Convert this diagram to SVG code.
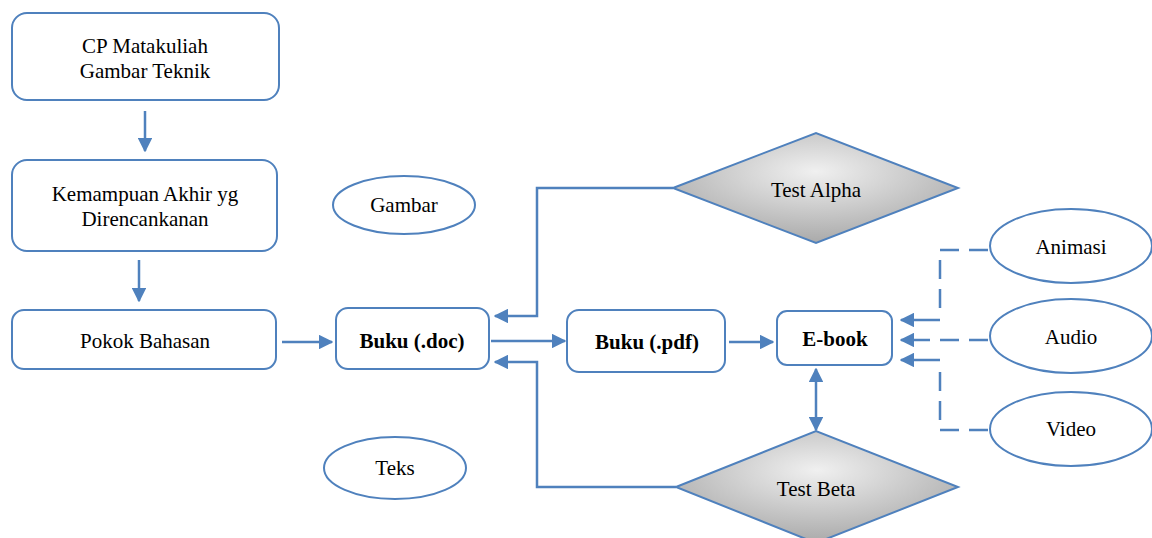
<svg xmlns="http://www.w3.org/2000/svg" width="1152" height="538" viewBox="0 0 1152 538">
<style>
.n{fill:#fff;stroke:#4f81bd;stroke-width:2}
.t{font-family:"Liberation Serif","Times New Roman",serif;font-size:21px;fill:#000;text-anchor:middle}
.b{font-weight:bold}
.c{fill:none;stroke:#4f81bd;stroke-width:2.5}
.d{fill:none;stroke:#4f81bd;stroke-width:2.5;stroke-dasharray:19,10}
.dm{fill:url(#g);stroke:#4f81bd;stroke-width:2}
</style>
<defs>
<marker id="a" viewBox="0 0 10 10" refX="9" refY="5" markerWidth="5.8" markerHeight="5.8" orient="auto-start-reverse" markerUnits="strokeWidth">
<path d="M0,0L10,5L0,10z" fill="#4f81bd"/>
</marker>
<radialGradient id="g" cx="50%" cy="35%" r="70%">
<stop offset="0" stop-color="#f0f0f0"/>
<stop offset="1" stop-color="#a4a4a4"/>
</radialGradient>
</defs>
<rect width="1152" height="538" fill="#fff"/>
<g id="connectors">
<path class="c" d="M145,111V151" marker-end="url(#a)"/>
<path class="c" d="M139,260V301" marker-end="url(#a)"/>
<path class="c" d="M282,342H332" marker-end="url(#a)"/>
<path class="c" d="M491,341H565" marker-end="url(#a)"/>
<path class="c" d="M729,342H773" marker-end="url(#a)"/>
<path class="c" d="M816,369V430" marker-start="url(#a)" marker-end="url(#a)"/>
<path class="c" d="M673,188H537V316H495" marker-end="url(#a)"/>
<path class="c" d="M676,487H537V362H495" marker-end="url(#a)"/>
<path class="d" d="M988,250H940V318"/>
<path class="c" d="M940,320H901" marker-end="url(#a)"/>
<path class="d" d="M988,340H932"/>
<path class="c" d="M930,340H901" marker-end="url(#a)"/>
<path class="d" d="M988,430H940V362"/>
<path class="c" d="M940,360H901" marker-end="url(#a)"/>
</g>
<g id="cp"><rect class="n" x="12" y="13" width="267" height="87" rx="15"/><text class="t" x="145" y="53">CP Matakuliah</text><text class="t" x="145" y="78">Gambar Teknik</text></g>
<g id="kemampuan"><rect class="n" x="12" y="160" width="265" height="91" rx="15"/><text class="t" x="145" y="201">Kemampuan Akhir yg</text><text class="t" x="145" y="226">Direncankanan</text></g>
<g id="pokok"><rect class="n" x="12" y="310" width="264" height="59" rx="12"/><text class="t" x="145" y="348">Pokok Bahasan</text></g>
<g id="bukudoc"><rect class="n" x="336" y="308" width="153" height="61" rx="12"/><text class="t b" x="412" y="348">Buku (.doc)</text></g>
<g id="bukupdf"><rect class="n" x="567" y="310" width="158" height="62" rx="12"/><text class="t b" x="647" y="349">Buku (.pdf)</text></g>
<g id="ebook"><rect class="n" x="777" y="311" width="115" height="54" rx="10"/><text class="t b" x="835" y="346">E-book</text></g>
<g id="testalpha"><polygon class="dm" points="673,188 816,133 958,188 816,243"/><text class="t" x="816" y="197">Test Alpha</text></g>
<g id="testbeta"><polygon class="dm" points="676,487 816,431 958,487 816,543"/><text class="t" x="816" y="496">Test Beta</text></g>
<g id="gambar"><ellipse class="n" cx="404" cy="205" rx="71" ry="29"/><text class="t" x="404" y="212">Gambar</text></g>
<g id="teks"><ellipse class="n" cx="395" cy="468" rx="71" ry="31"/><text class="t" x="395" y="475">Teks</text></g>
<g id="animasi"><ellipse class="n" cx="1071" cy="246" rx="81" ry="37"/><text class="t" x="1071" y="254">Animasi</text></g>
<g id="audio"><ellipse class="n" cx="1071" cy="336" rx="81" ry="37"/><text class="t" x="1071" y="344">Audio</text></g>
<g id="video"><ellipse class="n" cx="1071" cy="429" rx="81" ry="37"/><text class="t" x="1071" y="436">Video</text></g>
</svg>
